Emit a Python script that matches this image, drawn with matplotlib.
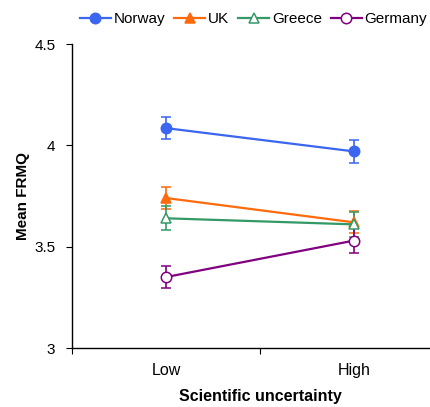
import matplotlib
matplotlib.use("Agg")
import matplotlib.pyplot as plt
from matplotlib.lines import Line2D

plt.rcParams['font.family'] = ['Liberation Sans', 'DejaVu Sans']

conditions = ["Low", "High"]
countries = ["Norway", "UK", "Greece", "Germany"]
norway_mean = [4.085, 3.970]
norway_err = [0.055, 0.055]
uk_mean = [3.740, 3.620]
uk_err = [0.055, 0.055]
greece_mean = [3.640, 3.610]
greece_err = [0.060, 0.060]
germany_mean = [3.350, 3.530]
germany_err = [0.055, 0.060]

series = [
    (norway_mean, norway_err, "#3a66f0", "o", "#3a66f0"),
    (uk_mean, uk_err, "#ff6a0d", "^", "#ff6a0d"),
    (greece_mean, greece_err, "#339966", "^", "white"),
    (germany_mean, germany_err, "#800080", "o", "white"),
]

fig = plt.figure(figsize=(4.30, 4.07), dpi=100)
ax = fig.add_axes([72 / 430, 59 / 407, 376 / 430, 304 / 407])

xpos = [0.5, 1.5]
handles = []
for name, (m, e, col, mk, face) in zip(countries, series):
    ax.errorbar(xpos, m, yerr=e, color=col, marker=mk, markersize=7.5,
                markerfacecolor=face, markeredgecolor=col, markeredgewidth=1.1,
                linewidth=1.6, elinewidth=1.2, capsize=3.8, capthick=1.2,
                zorder=3)
    handles.append(Line2D([], [], color=col, marker=mk, markersize=7.5,
                          markerfacecolor=face, markeredgecolor=col,
                          markeredgewidth=1.1, linewidth=1.6))

ax.set_xlim(0, 2)
ax.set_ylim(3, 4.5)
ax.set_yticks([3, 3.5, 4, 4.5])
ax.set_yticklabels(["3", "3.5", "4", "4.5"])
ax.set_xticks([0, 1, 2])
ax.set_xticklabels([])
ax.set_xticks(xpos, minor=True)
ax.set_xticklabels(conditions, minor=True)
ax.tick_params(axis="x", which="minor", length=0, pad=11, labelsize=11.5)
ax.tick_params(axis="x", which="major", length=4, direction="out")
ax.tick_params(axis="y", length=4, direction="out", labelsize=11, pad=8)

for s in ["top", "right"]:
    ax.spines[s].set_visible(False)
ax.spines["left"].set_linewidth(1.0)
ax.spines["bottom"].set_linewidth(1.0)

ax.set_xlabel("Scientific uncertainty", fontsize=11.5, fontweight="bold", labelpad=8)
ax.set_ylabel("Mean FRMQ", fontsize=11, fontweight="bold", labelpad=3)

fig.legend(handles=handles, labels=countries, loc="center", ncol=4,
           bbox_to_anchor=(0.59, 0.953), frameon=False, fontsize=11,
           handlelength=2.0, handletextpad=0.2, columnspacing=0.6)

fig.savefig("out.png", dpi=100)
